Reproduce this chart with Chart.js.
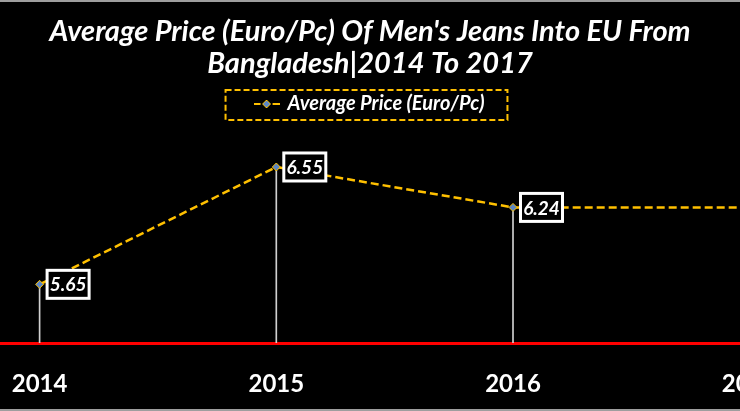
<!DOCTYPE html>
<html>
<head>
<meta charset="utf-8">
<script src="https://cdn.jsdelivr.net/npm/chart.js@4.4.1/dist/chart.umd.min.js"></script>
<style>
  html, body { margin: 0; padding: 0; background: #000; }
  #wrap { width: 740px; height: 411px; box-sizing: border-box; border-top: 2px solid #9e9e9e; border-bottom: 2px solid #9e9e9e; background: #000; overflow: hidden; }
  #wrap canvas { display: block; }
</style>
</head>
<body>
<div id="wrap"><canvas id="chart" width="740" height="407"></canvas></div>
<script>
// data
const years = [2014, 2015, 2016, 2017];
const yearLabels = ['2014', '2015', '2016', '2017'];
const avgPrice = [5.65, 6.55, 6.24, 6.24];
const seriesName = 'Average Price (Euro/Pc)';
const titleLines = ["Average Price (Euro/Pc) Of Men's Jeans Into EU From", 'Bangladesh|2014 To 2017'];

const GOLD = '#ffc000';
const POINT_FILL = '#5b86c5';

// small legend glyph: dash, diamond, dash
function legendMarker() {
    const c = document.createElement('canvas');
    c.width = 26; c.height = 10;
    const g = c.getContext('2d');
    g.strokeStyle = GOLD; g.lineWidth = 2;
    g.beginPath(); g.moveTo(0, 5); g.lineTo(7, 5); g.moveTo(19, 5); g.lineTo(26, 5); g.stroke();
    g.beginPath(); g.moveTo(13, 1); g.lineTo(17, 5); g.lineTo(13, 9); g.lineTo(9, 5); g.closePath();
    g.fillStyle = POINT_FILL; g.fill();
    g.strokeStyle = GOLD; g.lineWidth = 1; g.stroke();
    return c;
}

// dashed frame round the legend item
const legendFrame = {
    id: 'legendFrame',
    afterDraw(chart) {
        const box = chart.legend.legendHitBoxes[0];
        if (!box) return;
        const ctx = chart.ctx;
        ctx.save();
        ctx.strokeStyle = GOLD;
        ctx.lineWidth = 2;
        ctx.setLineDash([6, 3]);
        ctx.strokeRect(box.left - 30, box.top + box.height / 2 - 14, box.width + 53, 30);
        ctx.restore();
    }
};

// boxed value labels next to each point
const valueBoxes = {
    id: 'valueBoxes',
    afterDatasetsDraw(chart) {
        const meta = chart.getDatasetMeta(0);
        const area = chart.chartArea;
        const ctx = chart.ctx;
        ctx.save();
        ctx.font = 'italic bold 19px Lato';
        ctx.textAlign = 'center';
        ctx.textBaseline = 'middle';
        meta.data.forEach((pt, i) => {
            if (pt.x > area.right) return;
            const left = pt.x + 7.5, top = pt.y - 14, w = 42, h = 28;
            ctx.fillStyle = '#000';
            ctx.fillRect(left, top, w, h);
            ctx.strokeStyle = '#fff';
            ctx.lineWidth = 3;
            ctx.strokeRect(left, top, w, h);
            ctx.fillStyle = '#fff';
            ctx.fillText(avgPrice[i].toFixed(2), left + w / 2, pt.y + 1);
        });
        ctx.restore();
    }
};

function drawChart() {
    const points = years.map((y, i) => ({ x: y, y: avgPrice[i] }));
    const marker = legendMarker();

    new Chart(document.getElementById('chart'), {
        type: 'line',
        data: {
            datasets: [
                {
                    type: 'line',
                    label: seriesName,
                    data: points,
                    borderColor: GOLD,
                    borderWidth: 2.5,
                    borderDash: [8, 4],
                    pointStyle: 'rectRot',
                    pointRadius: 4,
                    pointBackgroundColor: POINT_FILL,
                    pointBorderColor: GOLD,
                    pointBorderWidth: 1,
                    tension: 0,
                    fill: false,
                    order: 0
                },
                {
                    type: 'bar',
                    label: 'drop',
                    data: points,
                    backgroundColor: '#d0d0d0',
                    barThickness: 1,
                    order: 1
                }
            ]
        },
        options: {
            responsive: false,
            animation: false,
            layout: { autoPadding: false, padding: 0 },
            scales: {
                x: {
                    type: 'linear',
                    bounds: 'data',
                    offset: false,
                    min: 2013.8327,
                    max: 2016.959,
                    border: { display: true, color: '#ff0000', width: 3 },
                    grid: { display: false, drawTicks: false },
                    ticks: {
                        color: '#fff',
                        font: { family: 'Lato', weight: 'bold', size: 24 },
                        padding: 27,
                        autoSkip: false,
                        maxRotation: 0,
                        callback: v => yearLabels[years.indexOf(v)]
                    },
                    afterBuildTicks: s => { s.ticks = years.map(v => ({ value: v })); },
                    afterFit: s => { s.paddingLeft = 0; s.paddingRight = 0; s.height = 66; }
                },
                y: { display: false, min: 5.2, max: 6.88 }
            },
            plugins: {
                title: {
                    display: true,
                    text: titleLines,
                    color: '#fff',
                    font: { family: 'Lato', size: 29, weight: 'bold', style: 'italic', lineHeight: 1.12 },
                    padding: { top: 13, bottom: 2 }
                },
                legend: {
                    position: 'top',
                    onClick: null,
                    labels: {
                        usePointStyle: true,
                        pointStyleWidth: 22,
                        color: '#fff',
                        font: { family: 'Lato', size: 20, weight: 'bold', style: 'italic' },
                        padding: 12,
                        generateLabels: chart => Chart.defaults.plugins.legend.labels.generateLabels(chart)
                            .filter(l => l.datasetIndex === 0)
                            .map(l => Object.assign(l, { pointStyle: marker }))
                    }
                },
                tooltip: { enabled: false }
            }
        },
        plugins: [valueBoxes, legendFrame]
    });
}

document.fonts.load('italic bold 20px Lato').then(() => document.fonts.load('bold 20px Lato')).then(drawChart, drawChart);
</script>
</body>
</html>
